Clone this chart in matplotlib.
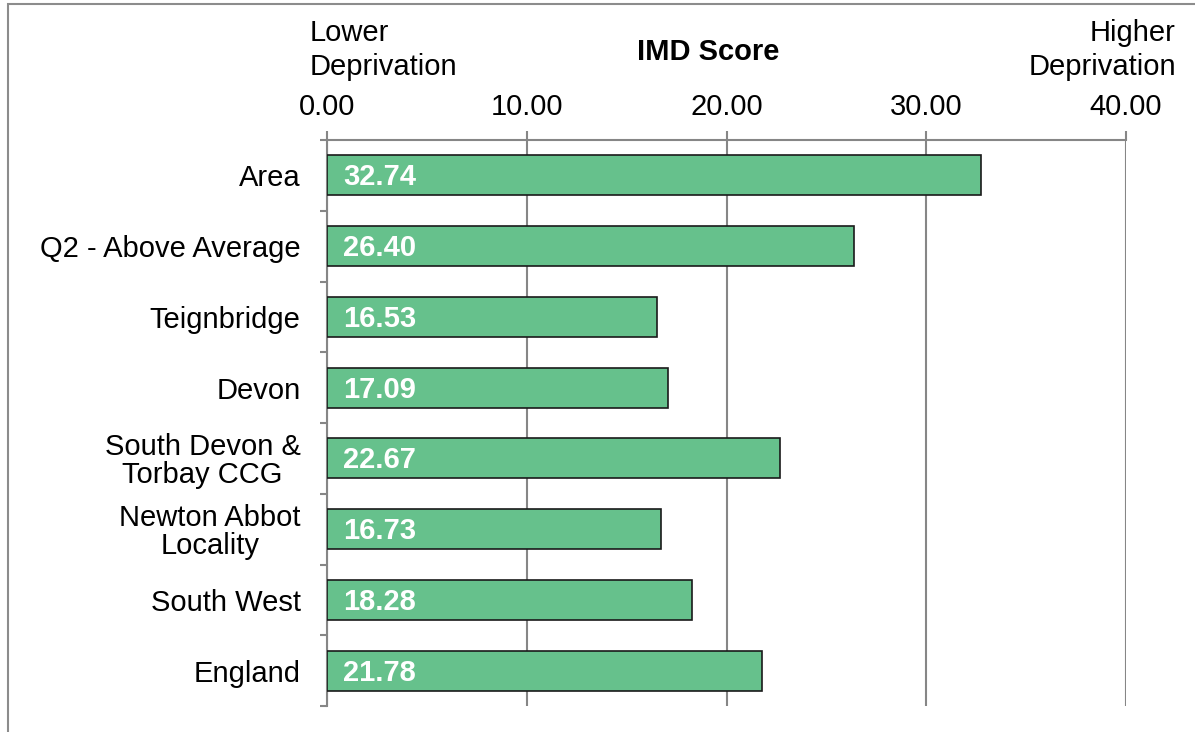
import numpy as np
import matplotlib.pyplot as plt
from matplotlib.patches import Rectangle

plt.rcParams['font.family'] = ['Liberation Sans', 'DejaVu Sans']

categories = ['Area', 'Q2 - Above Average', 'Teignbridge', 'Devon',
              'South Devon &\nTorbay CCG', 'Newton Abbot\nLocality',
              'South West', 'England']
scores = [32.74, 26.40, 16.53, 17.09, 22.67, 16.73, 18.28, 21.78]
xticks = [0, 10, 20, 30, 40]

grey = '#868686'
fs = 21

fig = plt.figure(figsize=(11.95, 7.32), dpi=100)
ax = fig.add_axes([327 / 1195, 1 - 706 / 732, (1126 - 327) / 1195, (706 - 140) / 732])

y = np.arange(len(categories))
ax.barh(y, scores, height=0.565, color='#66C18C', edgecolor='#1a1a1a',
        linewidth=1.2, zorder=3)

# value labels inside the bars
for yi, v in zip(y, scores):
    ax.text(0.8, yi + 0.03, f'{v:.2f}', color='white', fontweight='bold',
            fontsize=fs, va='center', ha='left', zorder=4)

ax.set_xlim(0, 40)
ax.set_ylim(len(categories) - 0.5, -0.5)

ax.xaxis.tick_top()
ax.set_xticks(xticks)
ax.set_xticklabels([f'{t:.2f}' for t in xticks], fontsize=fs)
ax.tick_params(axis='x', direction='out', length=6.5, width=1.5, color=grey, pad=7)
ax.grid(axis='x', color=grey, linewidth=1.5, zorder=0)

ax.set_yticks(y)
ax.set_yticklabels(categories, fontsize=fs, multialignment='center', linespacing=1.0)
ax.set_yticks(np.arange(-0.5, len(categories)), minor=True)
ax.tick_params(axis='y', which='major', length=0, pad=19)
ax.tick_params(axis='y', which='minor', length=5, width=1.5, color=grey)

for side in ['right', 'bottom']:
    ax.spines[side].set_visible(False)
for side in ['top', 'left']:
    ax.spines[side].set_color(grey)
    ax.spines[side].set_linewidth(1.5)

fig.text(310 / 1195, 1 - 50 / 732, 'Lower\nDeprivation', fontsize=fs,
         ha='left', va='center', linespacing=1.25)
fig.text(708 / 1195, 1 - 52 / 732, 'IMD Score', fontsize=fs,
         fontweight='bold', ha='center', va='center')
fig.text(1176 / 1195, 1 - 50 / 732, 'Higher\nDeprivation', fontsize=fs,
         ha='right', va='center', linespacing=1.25, multialignment='right')

# outer chart border (left and top visible)
fig.patches.append(Rectangle((8 / 1195, -0.1), 1.2, 1 - 4 / 732 + 0.1,
                             transform=fig.transFigure, fill=False,
                             edgecolor='#8c8c8c', linewidth=1.5))

fig.savefig('out.png', dpi=100)
